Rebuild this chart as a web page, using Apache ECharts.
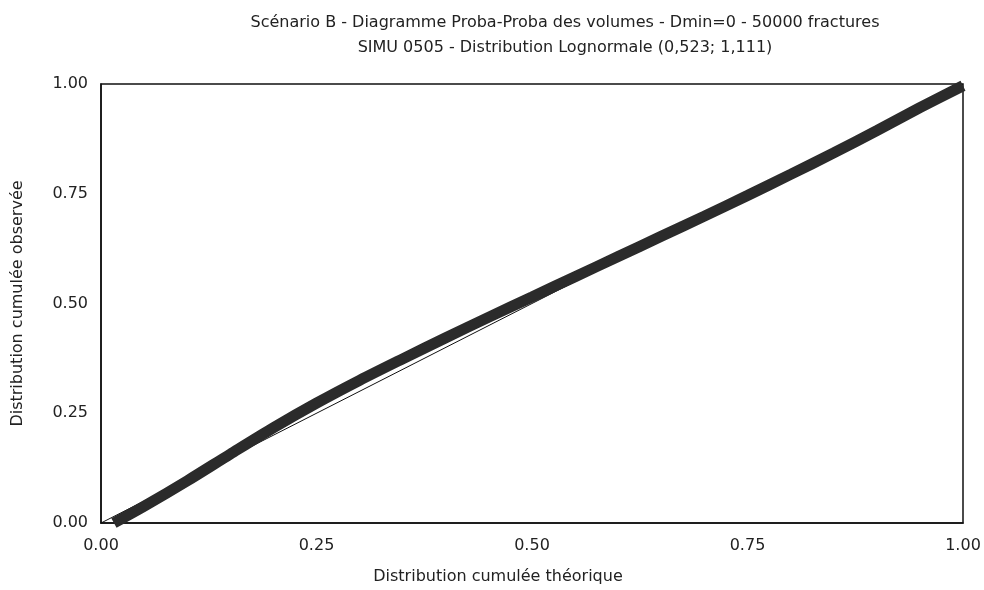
<!DOCTYPE html>
<html>
<head>
<meta charset="UTF-8">
<title>Proba-Proba volumes</title>
<script src="https://cdn.jsdelivr.net/npm/echarts@6/dist/echarts.min.js"></script>
<style>
  html, body { margin: 0; padding: 0; background: #fff; }
  #main { width: 984px; height: 590px; }
</style>
</head>
<body>
<div id="main"></div>
<script>
// valeurs (distribution théorique / observée)
var theo = [0.015, 0.05, 0.1, 0.15, 0.2, 0.25, 0.3, 0.35, 0.4, 0.45, 0.5, 0.55, 0.6, 0.65, 0.7, 0.75, 0.8, 0.85, 0.9, 0.95, 1.0];
var obs  = [0.0, 0.038, 0.096, 0.157, 0.217, 0.273, 0.325, 0.374, 0.422, 0.469, 0.515, 0.561, 0.607, 0.653, 0.699, 0.746, 0.794, 0.843, 0.894, 0.946, 0.996];
// droite de référence
var refX = [0, 1];
var refY = [0, 1];
var ticks = ['0.00', '0.25', '0.50', '0.75', '1.00'];

var font = 'DejaVu Sans, Verdana, sans-serif';
var chart = echarts.init(document.getElementById('main'));

var option = {
  backgroundColor: '#fff',
  animation: false,
  title: [
    {
      text: 'Scénario B - Diagramme Proba-Proba des volumes - Dmin=0 - 50000 fractures',
      left: 560, top: 10, textAlign: 'center',
      textStyle: { fontFamily: font, fontSize: 16, fontWeight: 'normal', color: '#222' }
    },
    {
      text: 'SIMU 0505 - Distribution Lognormale (0,523; 1,111)',
      left: 560, top: 35, textAlign: 'center',
      textStyle: { fontFamily: font, fontSize: 16, fontWeight: 'normal', color: '#222' }
    }
  ],
  grid: {
    left: 101, right: 21, top: 84, bottom: 67,
    show: true, borderColor: '#111', borderWidth: 1.5
  },
  xAxis: {
    type: 'value', min: 0, max: 1, interval: 0.25,
    name: 'Distribution cumulée théorique',
    nameLocation: 'middle', nameGap: 46,
    nameTextStyle: { fontFamily: font, fontSize: 16, color: '#222', padding: [0, 68, 0, 0] },
    axisLine: { lineStyle: { color: '#111', width: 1.5 } },
    axisTick: { show: false },
    splitLine: { show: false },
    axisLabel: {
      fontFamily: font, fontSize: 16, color: '#222', margin: 15,
      formatter: function (v) { return ticks[Math.round(v * 4)]; }
    }
  },
  yAxis: {
    type: 'value', min: 0, max: 1, interval: 0.25,
    name: 'Distribution cumulée observée',
    nameLocation: 'middle', nameGap: 75,
    nameTextStyle: { fontFamily: font, fontSize: 16, color: '#222' },
    axisLine: { lineStyle: { color: '#111', width: 1.5 } },
    axisTick: { show: false },
    splitLine: { show: false },
    axisLabel: {
      fontFamily: font, fontSize: 16, color: '#222', margin: 13,
      formatter: function (v) { return ticks[Math.round(v * 4)]; }
    }
  },
  series: [
    {
      name: 'observée',
      type: 'line',
      data: theo.map(function (x, i) { return [x, obs[i]]; }),
      smooth: 0.3,
      showSymbol: false,
      clip: true,
      lineStyle: { color: '#2b2b2b', width: 11 },
      z: 2
    },
    {
      name: 'référence',
      type: 'line',
      data: refX.map(function (x, i) { return [x, refY[i]]; }),
      showSymbol: false,
      lineStyle: { color: '#111', width: 1 },
      z: 1
    }
  ]
};
chart.setOption(option);
</script>
</body>
</html>
